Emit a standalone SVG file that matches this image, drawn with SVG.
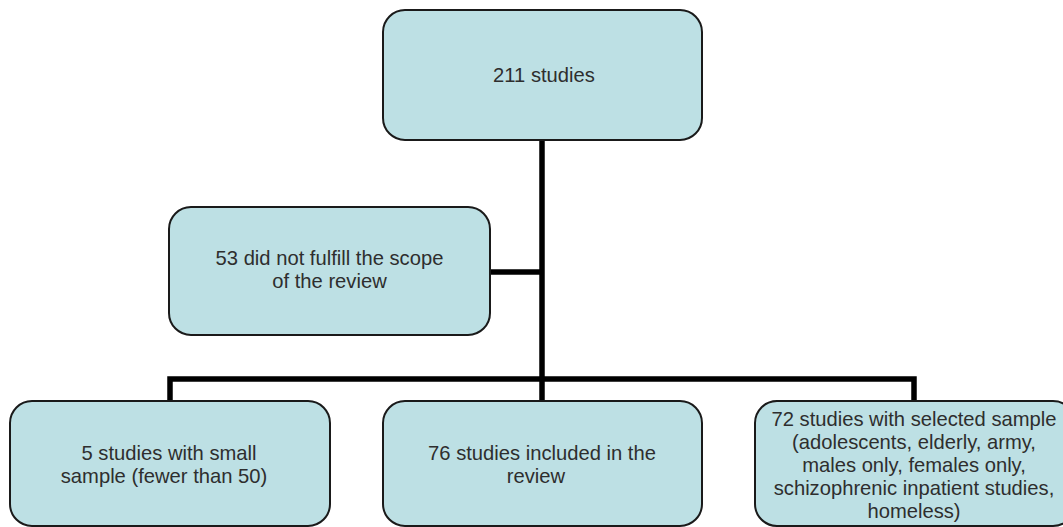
<svg xmlns="http://www.w3.org/2000/svg" width="1063" height="527" viewBox="0 0 1063 527">
<style>
.box{fill:#bde0e4;stroke:#1a1a1a;stroke-width:2}
.t{font-family:"Liberation Sans",Arial,sans-serif;font-size:20.2px;fill:#2e2e2e;text-anchor:middle}
.c{fill:none;stroke:#000;stroke-width:5.5;stroke-linejoin:miter;stroke-linecap:butt}
</style>
<rect width="1063" height="527" fill="#fff"/>
<g id="connectors">
<path class="c" d="M542 140 V401"/>
<path class="c" d="M490 272 H542"/>
<path class="c" d="M170 401 V379 H914 V401"/>
</g>
<g id="n1"><rect class="box" x="383" y="10" width="319" height="130" rx="22"/><text class="t" x="544" y="82">211 studies</text></g>
<g id="n2"><rect class="box" x="169" y="207" width="321" height="128" rx="22"/><text class="t" x="329.5" y="265">53 did not fulfill the scope</text><text class="t" x="329.5" y="288">of the review</text></g>
<g id="n3"><rect class="box" x="10" y="401" width="320" height="125" rx="22"/><text class="t" x="169" y="460">5 studies with small</text><text class="t" x="164" y="483">sample (fewer than 50)</text></g>
<g id="n4"><rect class="box" x="383" y="401" width="319" height="125" rx="22"/><text class="t" x="542" y="460">76 studies included in the</text><text class="t" x="536" y="483">review</text></g>
<g id="n5"><rect class="box" x="755" y="401" width="320" height="125" rx="22"/><text class="t" x="914" y="426">72 studies with selected sample</text><text class="t" x="914" y="449">(adolescents, elderly, army,</text><text class="t" x="914" y="472">males only, females only,</text><text class="t" x="914" y="495">schizophrenic inpatient studies,</text><text class="t" x="914" y="518">homeless)</text></g>
</svg>
